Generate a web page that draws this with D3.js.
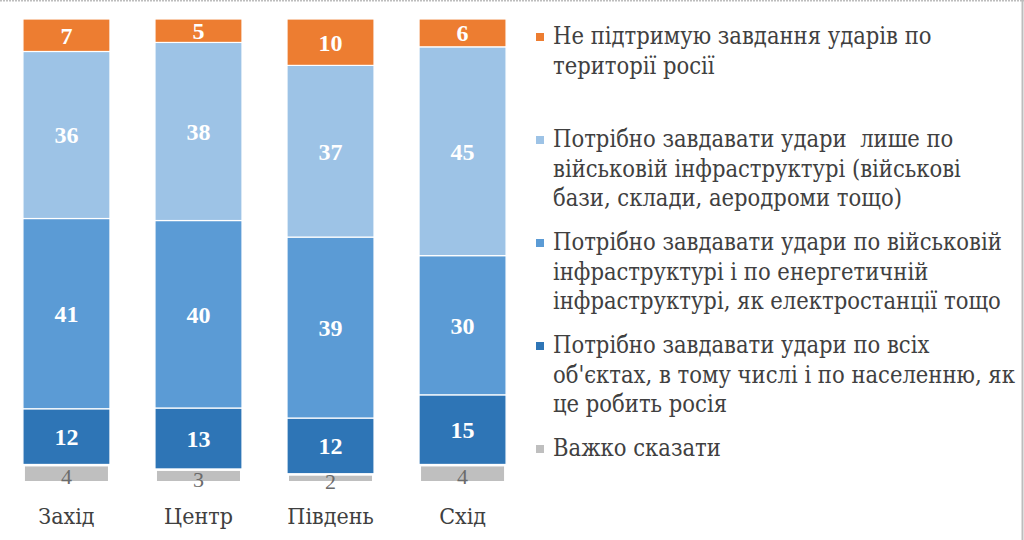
<!DOCTYPE html>
<html>
<head>
<meta charset="utf-8">
<script src="https://cdn.jsdelivr.net/npm/d3@7"></script>
<style>
  html, body { margin: 0; padding: 0; background: #fff; }
  svg { display: block; }
</style>
</head>
<body>
<svg id="chart" width="1024" height="540"></svg>
<script>
const FONT = "Liberation Serif";
const TEXTFONT = "DejaVu Serif Condensed";
// ---- data ----
const categories = ["Захід", "Центр", "Південь", "Схід"];
const hardToSay      = [4, 3, 2, 4];
const allObjects     = [12, 13, 12, 15];
const militaryEnergy = [41, 40, 39, 30];
const militaryOnly   = [36, 38, 37, 45];
const notSupport     = [7, 5, 10, 6];

const seriesKeys = ["hard", "all", "energy", "military", "no"];
const seriesValues = [hardToSay, allObjects, militaryEnergy, militaryOnly, notSupport];
const seriesColors = ["#BFBFBF", "#2E75B6", "#5B9BD5", "#9DC3E6", "#ED7D31"];

const legendKeys = ["no", "military", "energy", "all", "hard"];
const legendLines = [
  ["Не підтримую завдання ударів по", "території росії"],
  ["Потрібно завдавати удари  лише по", "військовій інфраструктурі (військові", "бази, склади, аеродроми тощо)"],
  ["Потрібно завдавати удари по військовій", "інфраструктурі і по енергетичній", "інфраструктурі, як електростанції тощо"],
  ["Потрібно завдавати удари по всіх", "об'єктах, в тому числі і по населенню, як", "це робить росія"],
  ["Важко сказати"]
];

const table = categories.map((c, i) => {
  const row = { category: c };
  seriesKeys.forEach((k, j) => row[k] = seriesValues[j][i]);
  return row;
});
const colorOf = d3.scaleOrdinal().domain(seriesKeys).range(seriesColors);

const svg = d3.select("#chart");
svg.append("rect").attr("width", 1024).attr("height", 540).attr("fill", "#fff");

svg.append("line").attr("x1", 0).attr("x2", 1024).attr("y1", 0.5).attr("y2", 0.5)
  .attr("stroke", "#bdbdbd").attr("stroke-width", 2).attr("stroke-dasharray", "2,1");
svg.append("line").attr("x1", 1022.5).attr("x2", 1022.5).attr("y1", 0).attr("y2", 540)
  .attr("stroke", "#bdbdbd").attr("stroke-width", 2);

const x = d3.scaleBand().domain(categories).range([0.5, 528.5]).paddingInner(0.341).paddingOuter(0.17);
const y = d3.scaleLinear().domain([0, 1]).range([483, 19]);

const stacked = d3.stack().keys(seriesKeys).offset(d3.stackOffsetExpand)(table);

const layers = svg.append("g").selectAll("g").data(stacked).join("g")
  .attr("fill", d => colorOf(d.key));

layers.selectAll("rect").data(d => d.map(p => ({ p, key: d.key }))).join("rect")
  .attr("x", d => x(d.p.data.category))
  .attr("width", x.bandwidth())
  .attr("y", d => y(d.p[1]))
  .attr("height", d => y(d.p[0]) - y(d.p[1]))
  .attr("stroke", "#fff")
  .attr("stroke-width", d => d.key === "hard" ? 4 : 1.2);

const labels = svg.append("g");
stacked.forEach(layer => {
  layer.forEach(p => {
    const v = p.data[layer.key];
    const cy = (y(p[0]) + y(p[1])) / 2;
    const isHard = layer.key === "hard";
    labels.append("text")
      .attr("x", x(p.data.category) + x.bandwidth() / 2)
      .attr("y", cy + (isHard ? 3 : 0))
      .attr("dy", "0.35em")
      .attr("text-anchor", "middle")
      .attr("font-family", FONT)
      .attr("font-size", isHard ? 22 : 24)
      .attr("font-weight", isHard ? "normal" : "bold")
      .attr("fill", isHard ? "#6b6b6b" : "#ffffff")
      .text(v);
  });
});

const ax = svg.append("g").attr("transform", "translate(0,500)")
  .call(d3.axisBottom(x).tickSize(0).tickPadding(0));
ax.attr("font-family", TEXTFONT).attr("font-size", 23);
ax.select(".domain").remove();
ax.selectAll("text")
  .attr("font-family", TEXTFONT)
  .attr("font-size", 23)
  .attr("fill", "#404040")
  .attr("dy", 0)
  .attr("y", 24);

const lg = svg.append("g");
legendKeys.forEach((k, i) => {
  const base = 44 + i * 103;
  lg.append("rect")
    .attr("x", 536).attr("y", base - 11)
    .attr("width", 8).attr("height", 8)
    .attr("fill", colorOf(k));
  const t = lg.append("text")
    .attr("x", 553).attr("y", base)
    .attr("font-family", TEXTFONT)
    .attr("font-size", 23.5)
    .attr("fill", "#404040")
    .attr("xml:space", "preserve");
  legendLines[i].forEach((line, j) => {
    t.append("tspan").attr("x", 553).attr("y", base + j * 29.5).text(line);
  });
});
</script>
</body>
</html>
